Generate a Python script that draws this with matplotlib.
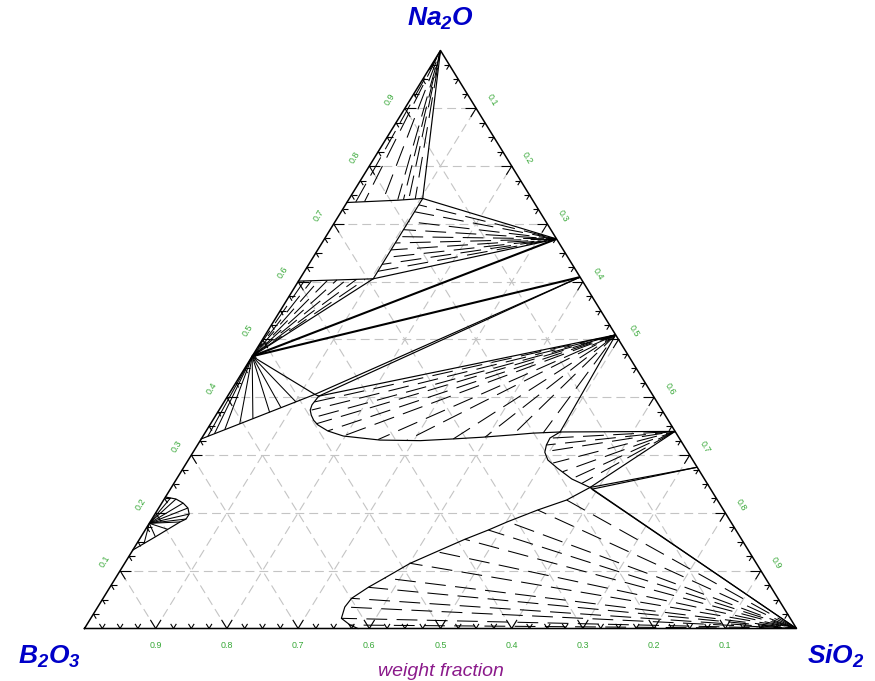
import numpy as np
import matplotlib
matplotlib.use("Agg")
import matplotlib.pyplot as plt
from matplotlib.transforms import offset_copy

plt.rcParams['font.family'] = ['Liberation Sans', 'DejaVu Sans']
plt.rcParams['mathtext.fontset'] = 'custom'
plt.rcParams['mathtext.rm'] = 'Liberation Sans:bold:italic'
plt.rcParams['mathtext.it'] = 'Liberation Sans:bold:italic'
plt.rcParams['mathtext.bf'] = 'Liberation Sans:bold:italic'

# ---- compositions, weight fractions given as (SiO2, Na2O); B2O3 is the rest ----
NA2O = (0.0, 1.0)
SIO2 = (1.0, 0.0)
NA4SIO4 = (0.326, 0.674)
NA6SI2O7 = (0.392, 0.608)
NA2SIO3 = (0.492, 0.508)
NA2SI2O5 = (0.659, 0.341)
NA6SI8O19 = (0.721, 0.279)
NABO2 = (0.0, 0.471)
NA2B8O13 = (0.0, 0.182)

# invariant liquid compositions
L_A1 = (0.121, 0.405)
L_A2 = (0.128, 0.402)
L_B = (0.103, 0.605)
L_C = (0.103, 0.744)
L_D = (0.498, 0.340)
L_E1 = (0.588, 0.244)
L_E2 = (0.592, 0.241)

# liquidus: Na2O + L
liq_na2o_si = [0.0, 0.035, 0.070, 0.103]
liq_na2o_na = [0.737, 0.739, 0.741, 0.744]
tie_na2o_si = [0.012, 0.024, 0.049, 0.069, 0.077, 0.084, 0.093]
tie_na2o_na = [0.738, 0.739, 0.740, 0.742, 0.742, 0.743, 0.743]

# liquidus: Na4SiO4 + L (constant SiO2 segment L_B - L_C)
tie_na4_si = [0.103] * 10
tie_na4_na = [0.618, 0.630, 0.642, 0.655, 0.667, 0.678, 0.690, 0.704, 0.721, 0.733]

# liquidus: NaBO2 + L (Na2O-rich side)
liq_nabo2_up_si = [0.0, 0.103]
liq_nabo2_up_na = [0.601, 0.605]
tie_nabo2_up_si = [0.008, 0.018, 0.028, 0.040, 0.053, 0.066, 0.080, 0.092]
tie_nabo2_up_na = [0.601, 0.601, 0.602, 0.602, 0.603, 0.603, 0.604, 0.604]

# liquidus: NaBO2 + L (B2O3-rich side)
liq_nabo2_lo_si = [0.0, 0.121]
liq_nabo2_lo_na = [0.328, 0.405]
tie_nabo2_lo_si = [0.007, 0.014, 0.025, 0.041, 0.055, 0.073, 0.085, 0.101]
tie_nabo2_lo_na = [0.332, 0.337, 0.344, 0.354, 0.363, 0.374, 0.382, 0.392]

# liquidus: Na2O.4B2O3 + L
liq_nb4_si = [0.0, 0.0165, 0.030, 0.041, 0.048, 0.048, 0.042, 0.020, 0.0]
liq_nb4_na = [0.2275, 0.224, 0.217, 0.2085, 0.198, 0.1894, 0.1843, 0.1583, 0.1358]
tie_nb4_si = [0.008, 0.0165, 0.030, 0.041, 0.048, 0.048, 0.042, 0.031, 0.020, 0.010]
tie_nb4_na = [0.226, 0.224, 0.217, 0.2085, 0.198, 0.1894, 0.1843, 0.1716, 0.1589, 0.1474]

# liquidus: Na2SiO3 + L
liq_ns_si = [0.128, 0.126, 0.128, 0.134, 0.142, 0.152, 0.171, 0.197, 0.252,
             0.309, 0.354, 0.394, 0.434, 0.461, 0.498]
liq_ns_na = [0.402, 0.387, 0.378, 0.369, 0.360, 0.352, 0.3417, 0.333, 0.326,
             0.325, 0.328, 0.331, 0.335, 0.338, 0.340]
tie_ns_si = [0.127, 0.130, 0.137, 0.148, 0.171, 0.197, 0.249, 0.290, 0.354, 0.397, 0.434, 0.475]
tie_ns_na = [0.392, 0.378, 0.364, 0.354, 0.342, 0.333, 0.327, 0.3256, 0.328, 0.331, 0.335, 0.3382]

# liquidus: Na2Si2O5 + L
liq_ns2_si = [0.498, 0.489, 0.490, 0.494, 0.505, 0.525, 0.555, 0.588]
liq_ns2_na = [0.340, 0.3296, 0.3175, 0.305, 0.2915, 0.2777, 0.2587, 0.244]
tie_ns2_si = [0.493, 0.490, 0.494, 0.515, 0.536, 0.556, 0.573]
tie_ns2_na = [0.3296, 0.3175, 0.3059, 0.2863, 0.2713, 0.2599, 0.2512]

# liquidus: SiO2 + L
liq_s_si = [0.588, 0.566, 0.534, 0.502, 0.482, 0.457, 0.428, 0.401, 0.378,
            0.363, 0.349, 0.347, 0.352, 0.370, 0.384]
liq_s_na = [0.244, 0.2223, 0.205, 0.1848, 0.1704, 0.1543, 0.1329, 0.1128, 0.0874,
            0.0713, 0.0522, 0.0372, 0.0176, 0.006, 0.0]
tie_s_si = [0.566, 0.534, 0.502, 0.482, 0.457, 0.428, 0.401, 0.378, 0.363, 0.349, 0.347, 0.352, 0.370]
tie_s_na = [0.2223, 0.205, 0.1848, 0.1704, 0.1543, 0.1329, 0.1128, 0.0874, 0.0713, 0.0522, 0.0372, 0.0176, 0.006]

grid_values = [0.1, 0.2, 0.3, 0.4, 0.5, 0.6, 0.7, 0.8, 0.9]
tick_step = 0.025

LABEL_GREEN = '#38a838'
VERTEX_BLUE = '#0000c8'
AXIS_PURPLE = '#8b1a8b'


def xy(si, na):
    si = np.asarray(si, float)
    na = np.asarray(na, float)
    return si + na / 2.0, na


fig = plt.figure(figsize=(8.75, 6.81), dpi=100)
ax = fig.add_axes([84.5 / 875, 52.5 / 681, 712 / 875, 578 / 681])
ax.set_xlim(0, 1)
ax.set_ylim(0, 1)
ax.axis('off')


def seg(p, q, **kw):
    x, y = xy([p[0], q[0]], [p[1], q[1]])
    kw.setdefault('color', 'black')
    kw.setdefault('lw', 0.85)
    kw.setdefault('solid_capstyle', 'butt')
    ax.plot(x, y, clip_on=False, **kw)


def curve(si, na, **kw):
    x, y = xy(si, na)
    kw.setdefault('color', 'black')
    kw.setdefault('lw', 0.85)
    ax.plot(x, y, clip_on=False, **kw)


def fan(center, si_ends, na_ends, dashed=True):
    # tie lines drawn from the liquid end towards the solid phase
    for i, (s, n) in enumerate(zip(si_ends, na_ends)):
        ls = ((i * 11) % 29, (20, 9)) if dashed else '-'
        seg((s, n), center, lw=0.75, ls=ls)


# ---- grid ----
for v in grid_values:
    gkw = dict(color='#c4c4c4', lw=0.8, ls=(0, (8, 4.5)), zorder=0)
    seg((0, v), (1 - v, v), **gkw)            # constant Na2O
    seg((v, 0), (v, 1 - v), **gkw)            # constant SiO2
    seg((1 - v, 0), (0, 1 - v), **gkw)        # constant B2O3

# ---- frame ----
curve([0, 1, 0, 0], [0, 0, 1, 0], lw=1.1, zorder=5)

# ---- ticks ----
for k in range(1, 40):
    t = k * tick_step
    major = (k % 4 == 0)
    d = 0.015 if major else 0.008
    tk = dict(lw=0.8, zorder=5)
    # bottom edge (B2O3 = t)
    s0 = 1 - t
    seg((s0, 0), (s0, d), **tk)
    seg((s0, 0), (s0 - d, d), **tk)
    # left edge (Na2O = t)
    seg((0, t), (d, t), **tk)
    seg((0, t), (d, t - d), **tk)
    # right edge (SiO2 = t)
    seg((t, 1 - t), (t - d, 1 - t), **tk)
    seg((t, 1 - t), (t, 1 - t - d), **tk)

# ---- tick labels ----
lab_kw = dict(color=LABEL_GREEN, fontsize=6.4, ha='center', va='center')
for v in grid_values:
    x, y = xy(1 - v, 0)
    ax.text(x, y, f'{v:.1f}', transform=offset_copy(ax.transData, fig, x=0, y=-16.5, units='dots'), **lab_kw)
    x, y = xy(0, v)
    ax.text(x, y, f'{v:.1f}', rotation=58.4, rotation_mode='anchor',
            transform=offset_copy(ax.transData, fig, x=-15, y=9, units='dots'), **lab_kw)
    x, y = xy(v, 1 - v)
    ax.text(x, y, f'{v:.1f}', rotation=-58.4, rotation_mode='anchor',
            transform=offset_copy(ax.transData, fig, x=15.5, y=8, units='dots'), **lab_kw)

# ---- vertex labels ----
vk = dict(color=VERTEX_BLUE, fontsize=19, ha='center', va='baseline')
x, y = xy(*NA2O)
ax.text(x, y, r'$Na_2O$', transform=offset_copy(ax.transData, fig, x=0, y=24.5, units='dots'), **vk)
x, y = xy(0, 0)
ax.text(x, y, r'$B_2O_3$', transform=offset_copy(ax.transData, fig, x=-35.5, y=-34.8, units='dots'), **vk)
x, y = xy(*SIO2)
ax.text(x, y, r'$SiO_2$', transform=offset_copy(ax.transData, fig, x=39.5, y=-34.8, units='dots'), **vk)
ax.text(0.5, 0, 'weight fraction', color=AXIS_PURPLE, fontsize=14, style='italic',
        ha='center', va='center',
        transform=offset_copy(ax.transData, fig, x=0, y=-42.5, units='dots'))

# ---- Na2O + L ----
curve(liq_na2o_si, liq_na2o_na)
seg(NA2O, L_C)
fan(NA2O, tie_na2o_si, tie_na2o_na)

# ---- Na4SiO4 + L ----
seg(L_B, L_C)
seg(L_B, NA4SIO4)
seg(L_C, NA4SIO4)
fan(NA4SIO4, tie_na4_si, tie_na4_na)

# ---- NaBO2 + L (upper) ----
curve(liq_nabo2_up_si, liq_nabo2_up_na)
seg(NABO2, L_B)
fan(NABO2, tie_nabo2_up_si, tie_nabo2_up_na)

# ---- solid-state three-phase boundaries ----
seg(NABO2, NA4SIO4, lw=1.5)
seg(NABO2, NA6SI2O7, lw=1.5)

# ---- NaBO2 + L (lower) ----
curve(liq_nabo2_lo_si, liq_nabo2_lo_na)
seg(NABO2, L_A1)
fan(NABO2, tie_nabo2_lo_si, tie_nabo2_lo_na, dashed=False)
seg(L_A1, NA6SI2O7)
seg(L_A2, NA6SI2O7)
seg(L_A1, L_A2)

# ---- Na2SiO3 + L ----
curve(liq_ns_si, liq_ns_na)
seg(L_A2, NA2SIO3)
seg(L_D, NA2SIO3)
fan(NA2SIO3, tie_ns_si, tie_ns_na)

# ---- Na2Si2O5 + L ----
curve(liq_ns2_si, liq_ns2_na)
seg(L_D, NA2SI2O5)
seg(L_E1, NA2SI2O5)
fan(NA2SI2O5, tie_ns2_si, tie_ns2_na)

# ---- Na6Si8O19 / SiO2 + L ----
seg(L_E1, NA6SI8O19)
seg(L_E2, NA6SI8O19)
seg(L_E1, SIO2)
seg(L_E2, SIO2)
curve(liq_s_si, liq_s_na)
fan(SIO2, tie_s_si, tie_s_na)

# ---- Na2O.4B2O3 + L ----
curve(liq_nb4_si, liq_nb4_na)
fan(NA2B8O13, tie_nb4_si, tie_nb4_na, dashed=False)

fig.savefig('out.png', dpi=100)
